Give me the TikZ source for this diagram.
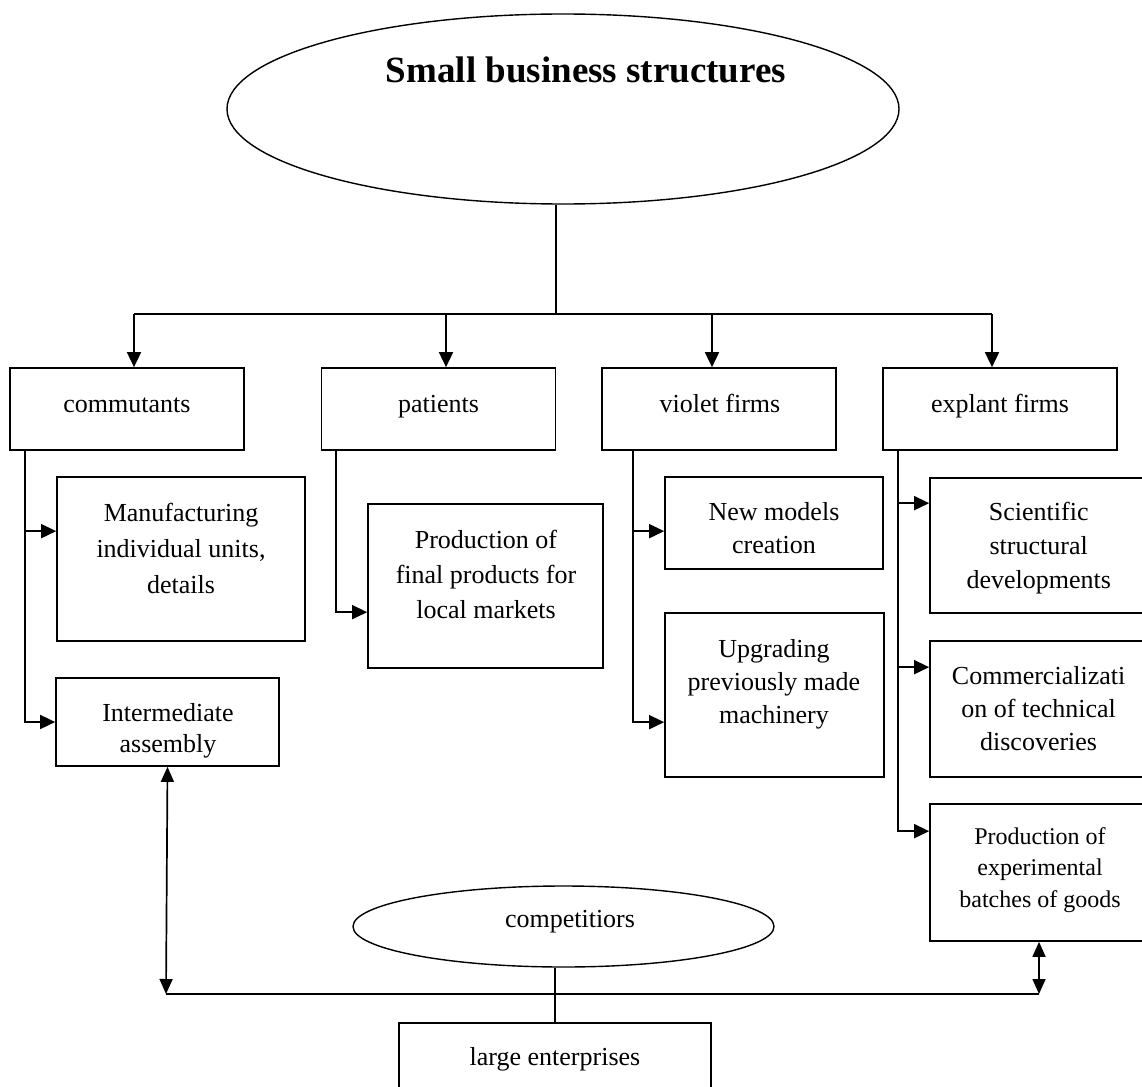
\documentclass[tikz,border=0pt]{standalone}
\usepackage{fontspec}
\setmainfont{Liberation Serif}
\usetikzlibrary{arrows.meta,calc,shapes.geometric}
\newcommand\mystrut{\rule{0pt}{20pt}}
\newcommand\fsz[2]{\fontsize{#1pt}{#2pt}\selectfont}
\begin{document}
\begin{tikzpicture}[x=1pt,y=-1pt,
  box/.style={draw, line width=1.7pt, rectangle, inner sep=0pt},
  oval/.style={draw, line width=1.4pt, ellipse, inner sep=0pt},
  conn/.style={line width=1.7pt},
  thin conn/.style={line width=1.4pt},
  arr/.style={conn, -{Triangle[length=15pt,width=14pt]}},
  darr/.style={conn, {Triangle[length=15pt,width=13pt]}-{Triangle[length=15pt,width=13pt]}},
  lbl/.style={anchor=base, inner sep=0pt, font=\fsz{26}{31}},
  mlbl/.style={anchor=north, inner sep=0pt, align=center, font=\fsz{26}{#1}},
  slbl/.style={anchor=north, inner sep=0pt, align=center, font=\fsz{24}{#1}},
]
\fill[white] (0,0) rectangle (1142,1086);
\useasboundingbox (0,0) rectangle (1142,1086);
\clip (0,0) rectangle (1142,1086);

% title ellipse
\node[oval, minimum width=672pt, minimum height=190pt] (top) at (563,109) {};
\node[anchor=base, inner sep=0pt, font=\fsz{37}{40}\bfseries] (title) at (586,83) {Small business structures};

% first level boxes
\node[box, minimum width=234pt, minimum height=82pt] (comm) at (127,409) {};
\node[box, minimum width=234pt, minimum height=82pt] (pat) at (438.6,409) {};
\node[box, minimum width=234pt, minimum height=82pt] (viol) at (719,409) {};
\node[box, minimum width=234pt, minimum height=82pt] (expl) at (1000,409) {};
\node[lbl] (comm-t) at (127,412) {commutants};
\node[lbl] (pat-t) at (438.6,412) {patients};
\node[lbl] (viol-t) at (720,412) {violet firms};
\node[lbl] (expl-t) at (1000,412) {explant firms};

% second level boxes
\node[box, minimum width=248pt, minimum height=164pt] (manu) at (181,559) {};
\node[box, minimum width=223pt, minimum height=88pt] (inter) at (167.5,722) {};
\node[box, minimum width=235pt, minimum height=164pt] (prod) at (485.5,586) {};
\node[box, minimum width=218pt, minimum height=92pt] (newm) at (774,523) {};
\node[box, minimum width=219pt, minimum height=164pt] (upg) at (774.5,695) {};
\node[box, minimum width=217pt, minimum height=135pt] (sci) at (1038.5,545.5) {};
\node[box, minimum width=217pt, minimum height=136pt] (com) at (1038.5,709) {};
\node[box, minimum width=217pt, minimum height=137pt] (pexp) at (1038.5,872.5) {};

\node[mlbl=36] (manu-t) at (181,501) {\mystrut Manufacturing\\individual units,\\details};
\node[mlbl=31] (inter-t) at (168,701) {\mystrut Intermediate\\assembly};
\node[mlbl=35] (prod-t) at (486,528) {\mystrut Production of\\final products for\\local markets};
\node[mlbl=33] (newm-t) at (774,500) {\mystrut New models\\creation};
\node[mlbl=33] (upg-t) at (774,637) {\mystrut Upgrading\\previously made\\machinery};
\node[mlbl=34] (sci-t) at (1038.7,500) {\mystrut Scientific\\structural\\developments};
\node[mlbl=33] (com-t) at (1038.6,664) {\mystrut Commercializati\\on of technical\\discoveries};
\node[slbl=31.5] (pexp-t) at (1040,824) {\mystrut Production of\\experimental\\batches of goods};

% bottom part
\node[oval, minimum width=421pt, minimum height=81pt] (comp) at (563.5,926.5) {};
\node[lbl] (comp-t) at (570,927) {competitiors};
\node[box, minimum width=312pt, minimum height=77pt] (large) at (555,1061.5) {};
\node[lbl] (large-t) at (555,1065) {large enterprises};

% top bus
\coordinate (bus) at (556,314);
\coordinate (a1) at ($(comm.north)+(7,0)$);
\coordinate (a2) at ($(pat.north)+(7.4,0)$);
\coordinate (a3) at ($(viol.north)+(-7,0)$);
\coordinate (a4) at ($(expl.north)+(-8,0)$);
\draw[conn] (top.south -| bus) -- (bus);
\draw[conn] (a1 |- bus) -- (a4 |- bus);
\draw[arr] (a1 |- bus) -- (a1);
\draw[arr] (a2 |- bus) -- (a2);
\draw[arr] (a3 |- bus) -- (a3);
\draw[arr] (a4 |- bus) -- (a4);

% branches
\coordinate (cb) at ($(comm.south west)+(15.6,0)$);
\draw[arr] (cb) |- ($(manu.north west)+(0,55)$);
\draw[arr] (cb) |- (inter.west);
\coordinate (pb) at ($(pat.south west)+(15.5,0)$);
\draw[arr] (pb) |- ($(prod.north west)+(0,109)$);
\coordinate (vb) at ($(viol.south west)+(31.5,0)$);
\draw[arr] (vb) |- ($(newm.north west)+(0,55)$);
\draw[arr] (vb) |- ($(upg.north west)+(0,110)$);
\coordinate (eb) at ($(expl.south west)+(16,0)$);
\draw[arr] (eb) |- ($(sci.north west)+(0,26)$);
\draw[arr] (eb) |- ($(com.north west)+(0,27)$);
\draw[arr] (eb) |- ($(pexp.north west)+(0,28)$);

% bottom connections
\coordinate (lb) at (166,994);
\coordinate (rb) at (1039,994);
\draw[darr] (inter.south) -- (lb);
\draw[darr] (pexp.south -| rb) -- (rb);
\draw[conn] (lb) -- (rb);
\draw[thin conn] (comp.south -| large.north) -- (large.north);
\end{tikzpicture}
\end{document}
